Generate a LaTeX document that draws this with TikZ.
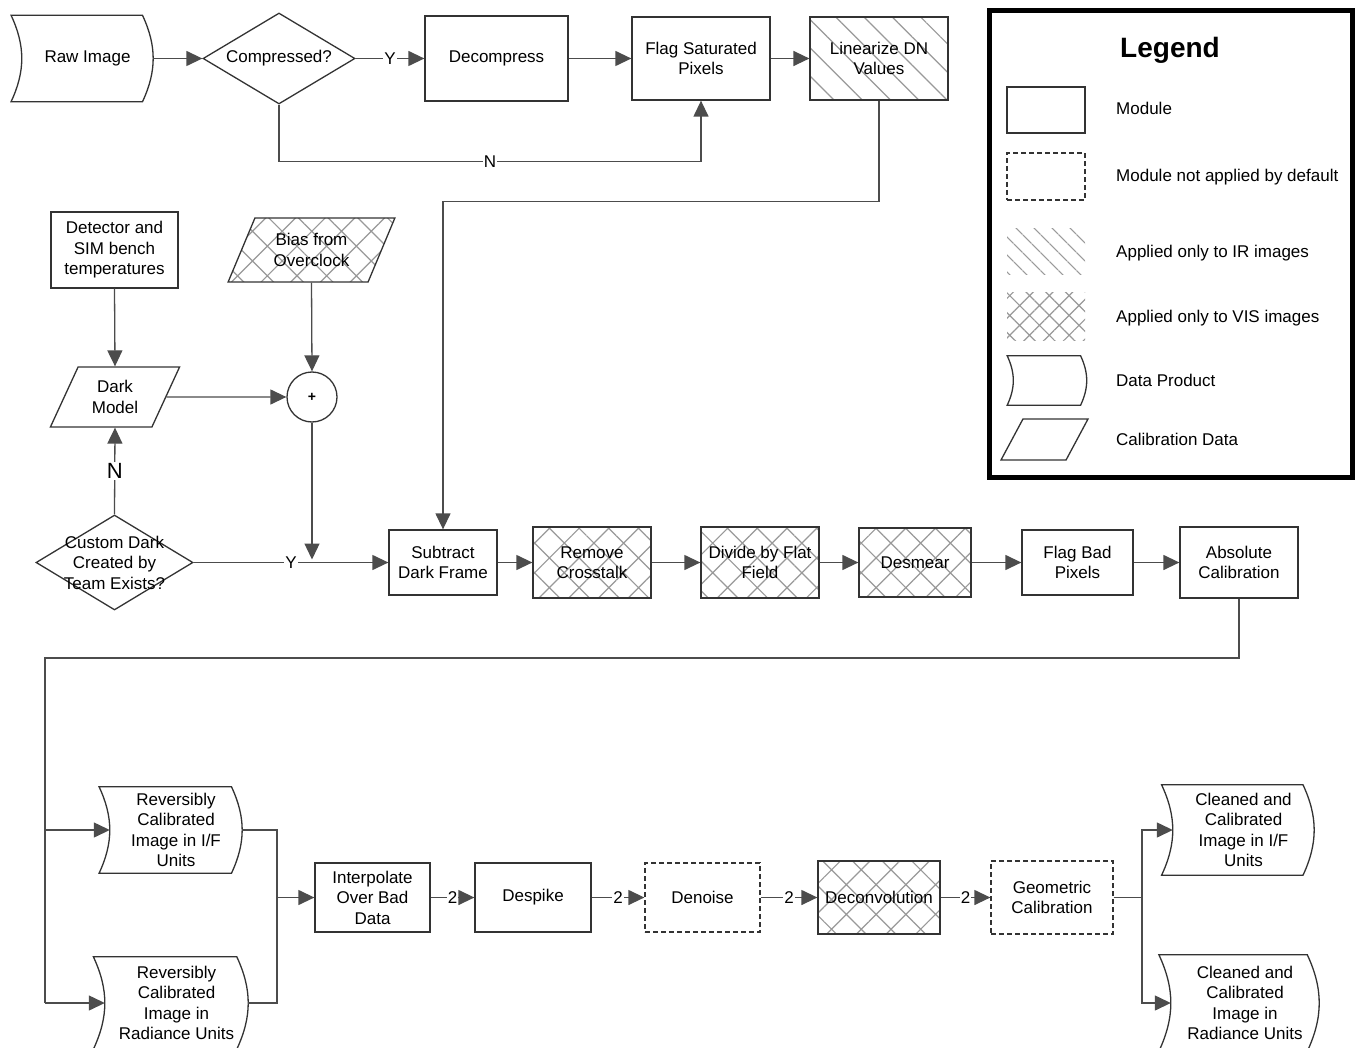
\documentclass[tikz,border=0pt]{standalone}
\usepackage{fontspec}
\setmainfont{Liberation Sans}
\usetikzlibrary{shapes.geometric, arrows.meta, patterns.meta, positioning}

\newcommand{\boxfont}{\fontsize{17}{20.5}\selectfont}

\begin{document}
\begin{tikzpicture}[x=1pt, y=-1pt, every node/.style={font=\boxfont}, align=center]
    \useasboundingbox (0,0) rectangle (1356,1048);
    \fill[white] (0,0) rectangle (1356,1048);

    % Define styles for the blocks
    \tikzstyle{module} = [rectangle, draw=black!80, line width=1.3pt, inner sep=2pt]
    \tikzstyle{optdash} = [dash pattern=on 5pt off 3pt]
    \tikzstyle{irhatch} = [pattern={Lines[angle=-45, distance=20pt, line width=1.2pt]}, pattern color=black!40]
    \tikzstyle{vishatch} = [pattern={Hatch[angle=45, distance=21pt, line width=1.2pt]}, pattern color=black!40]
    \tikzstyle{dataprod} = [rectangle, inner sep=0pt, minimum height=86pt]
    \tikzstyle{dpline} = [draw=black!80, line width=1.3pt]
    \tikzstyle{caldata} = [trapezium, trapezium left angle=63, trapezium right angle=117, trapezium stretches=true, draw=black!80, line width=1.3pt, inner sep=2pt]
    \tikzstyle{decision} = [diamond, aspect=1.65, draw=black!80, line width=1.3pt, inner sep=0pt]
    \tikzstyle{arrow} = [line width=1.3pt, draw=black!70, -{Triangle[length=16pt, width=15pt]}]
    \tikzstyle{line} = [line width=1.3pt, draw=black!70]
    \tikzstyle{lbl} = [fill=white, inner sep=1pt]
    \tikzstyle{lgtext} = [anchor=base west, inner sep=0pt]

    % Top row: raw image to linearized values
    \node (raw) [dataprod, minimum width=131pt] at (87.5,58.5) {Raw Image};
    \node (comp) [decision, minimum width=152pt, minimum height=91pt] at (279,58.5) {Compressed?};
    \node (decomp) [module, minimum width=143pt, minimum height=85pt] at (496.5,58.5) {Decompress};
    \node (flagsat) [module, minimum width=138pt, minimum height=83pt] at (701,58.5) {Flag Saturated\\Pixels};
    \node (linear) [module, irhatch, minimum width=138pt, minimum height=83pt] at (879,58.5) {Linearize DN\\Values};

    % Dark frame inputs
    \node (detect) [module, minimum width=127pt, minimum height=76pt] at (114.5,250) {Detector and\\SIM bench\\temperatures};
    \node (bias) [caldata, vishatch, minimum width=167pt, minimum height=64pt] at (311.5,250) {Bias from\\Overclock};
    \node (dark) [caldata, minimum width=130pt, minimum height=60pt] at (115,397) {Dark\\Model};
    \node (plus) [circle, draw=black!80, line width=1.3pt, minimum size=50pt, inner sep=0pt, font=\fontsize{14}{14}\selectfont\bfseries] at (312,397) {+};
    \node (custom) [decision, minimum width=157pt, minimum height=95pt, label={center:{Custom Dark\\Created by\\Team Exists?}}] at (114.5,562.5) {};

    % Middle row
    \node (subdark) [module, minimum width=108pt, minimum height=65pt] at (443,562.5) {Subtract\\Dark Frame};
    \node (xtalk) [module, vishatch, minimum width=118pt, minimum height=71pt] at (592,562.5) {Remove\\Crosstalk};
    \node (flat) [module, vishatch, minimum width=118pt, minimum height=71pt] at (760,562.5) {Divide by Flat\\Field};
    \node (desmear) [module, vishatch, minimum width=112pt, minimum height=69pt] at (915,562.5) {Desmear};
    \node (flagbad) [module, minimum width=111pt, minimum height=65pt] at (1077.5,562.5) {Flag Bad\\Pixels};
    \node (abscal) [module, minimum width=118pt, minimum height=71pt] at (1239,562.5) {Absolute\\Calibration};

    % Bottom row
    \node (revif) [dataprod, minimum width=132pt] at (176,830) {Reversibly\\Calibrated\\Image in I/F\\Units};
    \node (revrad) [dataprod, minimum width=143pt, minimum height=92pt] at (176.5,1003) {Reversibly\\Calibrated\\Image in\\Radiance Units};
    \node (interp) [module, minimum width=115pt, minimum height=69pt] at (372.5,897.5) {Interpolate\\Over Bad\\Data};
    \node (despike) [module, minimum width=116pt, minimum height=69pt] at (533,897.5) {Despike};
    \node (denoise) [module, optdash, minimum width=115pt, minimum height=69pt] at (702.5,897.5) {Denoise};
    \node (deconv) [module, vishatch, minimum width=122pt, minimum height=73pt] at (879,897.5) {Deconvolution};
    \node (geocal) [module, optdash, minimum width=122pt, minimum height=73pt] at (1052,897.5) {Geometric\\Calibration};
    \node (cleanif) [dataprod, minimum width=141pt, minimum height=90pt] at (1243.5,830) {Cleaned and\\Calibrated\\Image in I/F\\Units};
    \node (cleanrad) [dataprod, minimum width=148pt, minimum height=96pt] at (1245,1003) {Cleaned and\\Calibrated\\Image in\\Radiance Units};

    % Legend
    \node (legend) [draw=black, line width=4.5pt, minimum width=363pt, minimum height=467pt, inner sep=0pt] at (1171,244) {};
    \node (lgtitle) [font=\fontsize{28}{34}\selectfont\bfseries] at (1170,50) {Legend};
    \node (lgmod) [module, minimum width=78pt, minimum height=46pt] at (1046,110) {};
    \node (lgopt) [module, optdash, minimum width=78pt, minimum height=47pt] at (1046,176.5) {};
    \node (lgir) [rectangle, pattern={Lines[angle=-45, distance=13pt, line width=1.2pt]}, pattern color=black!40, minimum width=78pt, minimum height=46pt] at (1046,252) {};
    \node (lgvis) [rectangle, pattern={Hatch[angle=45, distance=14pt, line width=1.2pt]}, pattern color=black!40, minimum width=78pt, minimum height=47pt] at (1046,316.5) {};
    \node (lgdata) [dataprod, minimum width=73pt, minimum height=49pt] at (1050,380.5) {};
    \node (lgcal) [caldata, minimum width=87pt, minimum height=41pt] at (1044.5,439.5) {};
    \node (lgmodtxt) [lgtext] at (1116,115) {Module};
    \node (lgopttxt) [lgtext] at (1116,182) {Module not applied by default};
    \node (lgirtxt) [lgtext] at (1116,258) {Applied only to IR images};
    \node (lgvistxt) [lgtext] at (1116,323) {Applied only to VIS images};
    \node (lgdatatxt) [lgtext] at (1116,386) {Data Product};
    \node (lgcaltxt) [lgtext] at (1116,445) {Calibration Data};

    % Outlines of the data products
    \draw [dpline] ([xshift=-10.7pt]raw.north west) -- ([xshift=-10.7pt]raw.north east) to[bend left=25] ([xshift=-10.7pt]raw.south east) -- ([xshift=-10.7pt]raw.south west) to[bend right=25] ([xshift=-10.7pt]raw.north west) -- cycle;
    \draw [dpline] ([xshift=-10.7pt]revif.north west) -- ([xshift=-10.7pt]revif.north east) to[bend left=25] ([xshift=-10.7pt]revif.south east) -- ([xshift=-10.7pt]revif.south west) to[bend right=25] ([xshift=-10.7pt]revif.north west) -- cycle;
    \draw [dpline] ([xshift=-11.4pt]revrad.north west) -- ([xshift=-11.4pt]revrad.north east) to[bend left=25] ([xshift=-11.4pt]revrad.south east) -- ([xshift=-11.4pt]revrad.south west) to[bend right=25] ([xshift=-11.4pt]revrad.north west) -- cycle;
    \draw [dpline] ([xshift=-11.2pt]cleanif.north west) -- ([xshift=-11.2pt]cleanif.north east) to[bend left=25] ([xshift=-11.2pt]cleanif.south east) -- ([xshift=-11.2pt]cleanif.south west) to[bend right=25] ([xshift=-11.2pt]cleanif.north west) -- cycle;
    \draw [dpline] ([xshift=-11.9pt]cleanrad.north west) -- ([xshift=-11.9pt]cleanrad.north east) to[bend left=25] ([xshift=-11.9pt]cleanrad.south east) -- ([xshift=-11.9pt]cleanrad.south west) to[bend right=25] ([xshift=-11.9pt]cleanrad.north west) -- cycle;
    \draw [dpline] ([xshift=-6.1pt]lgdata.north west) -- ([xshift=-6.1pt]lgdata.north east) to[bend left=25] ([xshift=-6.1pt]lgdata.south east) -- ([xshift=-6.1pt]lgdata.south west) to[bend right=25] ([xshift=-6.1pt]lgdata.north west) -- cycle;

    % Draw arrows between the nodes
    \draw [arrow] (raw.east) -- (comp.west);
    \draw [arrow] (comp.east) -- node[lbl] {Y} (decomp.west);
    \draw [arrow] (decomp.east) -- (flagsat.west);
    \draw [arrow] (flagsat.east) -- (linear.west);
    \draw [arrow] (comp.south) |- node[lbl, pos=0.75] {N} ([yshift=-61pt]flagsat.south) -- (flagsat.south);
    \draw [arrow] (linear.south) -- ++(0,101) -| (subdark.north);

    % Dark frame arrows
    \draw [arrow] (detect.south) -- (dark.north);
    \draw [arrow] (bias.south) -- (plus.north);
    \draw [arrow] (dark.east) -- (plus.west);
    \draw [arrow, shorten >=3pt] (plus.south) -- (plus.south |- custom.east);
    \draw [arrow] (custom.north) -- node[lbl, font=\fontsize{22}{22}\selectfont] {N} (dark.south);
    \draw [arrow] (custom.east) -- node[lbl] {Y} (subdark.west);

    % Middle row arrows
    \draw [arrow] (subdark.east) -- (xtalk.west);
    \draw [arrow] (xtalk.east) -- (flat.west);
    \draw [arrow] (flat.east) -- (desmear.west);
    \draw [arrow] (desmear.east) -- (flagbad.west);
    \draw [arrow] (flagbad.east) -- (abscal.west);

    % Split to the reversibly calibrated products
    \coordinate (split) at (45,658);
    \draw [line] (abscal.south) |- (split) -- (split |- revrad.west);
    \draw [arrow] (split |- revif.west) -- (revif.west);
    \draw [arrow] (split |- revrad.west) -- (revrad.west);

    % Bottom row arrows
    \coordinate (merge) at (277,897.5);
    \draw [line] (revif.east) -| (merge);
    \draw [line] (revrad.east) -| (merge);
    \draw [arrow] (merge) -- (interp.west);
    \draw [arrow] (interp.east) -- node[lbl] {2} (despike.west);
    \draw [arrow] (despike.east) -- node[lbl] {2} (denoise.west);
    \draw [arrow] (denoise.east) -- node[lbl] {2} (deconv.west);
    \draw [arrow] (deconv.east) -- node[lbl] {2} (geocal.west);

    % Split to the cleaned products
    \coordinate (split2) at (1142,897.5);
    \draw [line] (geocal.east) -- (split2);
    \draw [arrow] (split2) |- (cleanif.west);
    \draw [arrow] (split2) |- (cleanrad.west);

\end{tikzpicture}
\end{document}
